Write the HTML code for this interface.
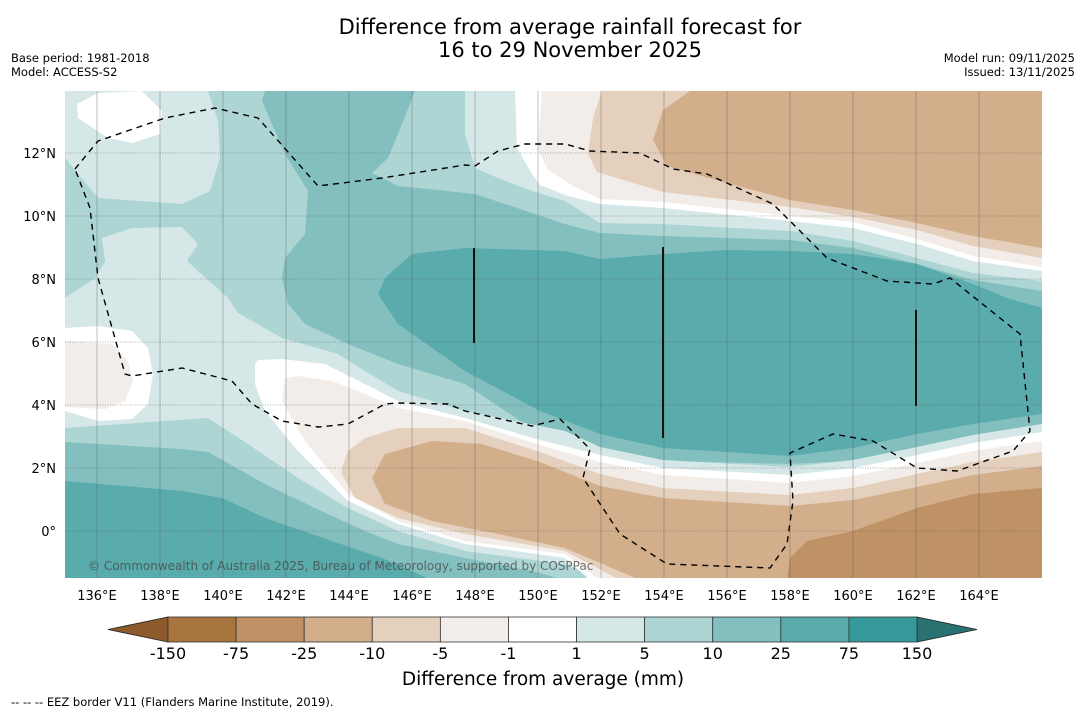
<!DOCTYPE html>
<html><head><meta charset="utf-8">
<style>
html,body{margin:0;padding:0;background:#fff;width:1085px;height:713px;overflow:hidden;font-family:"DejaVu Sans","Liberation Sans",sans-serif;}
svg{display:block}
</style></head>
<body>
<svg id="chart" width="1085" height="713" viewBox="0 0 1085 713" xmlns="http://www.w3.org/2000/svg" font-family="DejaVu Sans, Liberation Sans, sans-serif">
<rect width="1085" height="713" fill="#fff"/>
<text x="570" y="34" text-anchor="middle" font-size="21" fill="#000">Difference from average rainfall forecast for</text>
<text x="570" y="57" text-anchor="middle" font-size="21" fill="#000">16 to 29 November 2025</text>
<text x="11" y="62" font-size="11.5">Base period: 1981-2018</text>
<text x="11" y="76" font-size="11.5">Model: ACCESS-S2</text>
<text x="1075" y="62" font-size="11.5" text-anchor="end">Model run: 09/11/2025</text>
<text x="1075" y="76" font-size="11.5" text-anchor="end">Issued: 13/11/2025</text>
<defs><clipPath id="mapclip"><rect x="65" y="91" width="977" height="487"/></clipPath></defs>
<g id="map" clip-path="url(#mapclip)"></g>
<g id="axes"></g>
<g id="cbar"></g>
<text x="543" y="685" text-anchor="middle" font-size="18.5">Difference from average (mm)</text>
<text x="11" y="706" font-size="11.5">--  --  -- EEZ border V11 (Flanders Marine Institute, 2019).</text>
</svg>
<script>
// Colour scale data
const levels = ["-150","-75","-25","-10","-5","-1","1","5","10","25","75","150"];
const colors = ["#a9753f","#bf9265","#d2ae8b","#e5d0bd","#f2ede8","#ffffff","#d5e8e7","#acd5d4","#84bfbf","#5aabab","#35999a"];
const lonTicks = [136,138,140,142,144,146,148,150,152,154,156,158,160,162,164];
const latTicks = [0,2,4,6,8,10,12];
const NS="http://www.w3.org/2000/svg";
const lonX = lon => 97 + (lon-136)*31.5;
const latY = lat => 531 - lat*31.5;
function mk(tag, attrs, parent){const e=document.createElementNS(NS,tag);for(const k in attrs)e.setAttribute(k,attrs[k]);parent.appendChild(e);return e;}
const map=document.getElementById('map');
mk('rect',{x:65,y:91,width:977,height:487,fill:'#acd5d4'},map);
// contour regions [colour, polygon]
const regions=[
["#84bfbf","265,91 415,91 398,134 388,158 372,173 398,186 475,194 565,224 600,233 663,236 790,240 853,248 917,264 973,280 1042,291 1042,424 973,438 917,448 853,461 790,464 663,461 600,451 540,434 465,384 398,364 348,344 305,324 288,304 282,278 285,258 305,234 308,191 285,154 262,101"],
["#5aabab","412,254 465,248 565,251 600,259 663,254 727,250 790,251 853,254 917,264 973,284 1007,298 1042,308 1042,414 973,424 917,434 853,448 790,456 663,448 600,434 540,411 465,371 398,324 378,294 385,278"],
["#84bfbf","65,442 182,449 208,452 265,484 315,508 365,531 398,544 465,558 532,571 565,580 65,580"],
["#5aabab","65,481 182,491 222,498 265,518 332,541 382,558 432,580 65,580"],
["#d5e8e7","65,91 208,91 218,121 220,158 210,191 182,204 98,198 65,158"],
["#d5e8e7","65,298 95,278 105,261 102,238 132,228 182,227 198,244 187,261 228,298 238,313 282,338 338,354 365,371 398,391 465,411 565,431 600,447 663,460 790,467 853,460 917,447 973,435 1042,424 1042,580 600,580 565,564 465,551 398,531 348,508 298,478 248,444 208,418 65,428"],
["#ffffff","77,104 98,93 142,91 162,111 160,134 132,143 108,138 78,118"],
["#ffffff","65,328 98,326 132,331 148,348 153,374 148,404 132,419 98,421 65,411"],
["#f2ede8","65,341 112,344 128,361 133,381 125,401 105,409 65,407"],
["#ffffff","255,364 258,360 282,359 325,364 365,384 398,401 465,418 540,440 600,455 663,468 790,475 853,468 917,455 973,443 1042,432 1042,580 590,580 565,558 465,544 398,524 348,501 298,451 265,411 255,384"],
["#f2ede8","285,378 298,376 332,381 365,394 398,408 465,421 540,445 600,462 663,475 790,483 853,476 917,463 973,451 1042,441 1042,580 600,580 565,554 465,541 398,521 348,494 305,441 282,401"],
["#e5d0bd","342,468 348,451 365,438 398,428 465,428 540,452 600,474 663,488 790,495 853,488 917,474 973,462 1042,452 1042,580 620,580 565,551 465,534 398,518 355,498 342,474"],
["#d2ae8b","372,478 385,454 432,441 482,444 540,462 600,486 663,498 790,506 853,500 917,487 973,475 1042,466 1042,580 640,580 565,548 498,534 432,521 385,504"],
["#bf9265","790,558 807,541 853,531 917,508 973,494 1042,488 1042,580 787,580"],
["#d5e8e7","465,91 1042,91 1042,281 973,273 917,258 853,241 790,231 663,224 600,223 565,201 532,191 498,178 475,168 465,134"],
["#ffffff","515,91 1042,91 1042,271 973,261 917,244 853,228 790,221 663,208 600,204 565,195 540,185 532,174 517,148"],
["#f2ede8","542,91 1042,91 1042,267 973,256 917,239 853,222 790,216 663,202 600,199 573,186 548,170 538,150"],
["#e5d0bd","602,91 1042,91 1042,258 973,246 917,230 853,217 790,207 663,192 597,172 588,154 593,118"],
["#d2ae8b","690,91 1042,91 1042,248 973,236 917,223 853,210 790,200 723,182 667,166 653,140 663,110"]
];
regions.forEach((r,i)=>{const p=mk('polygon',{points:r[1],fill:r[0]},map);

});
// gridlines
lonTicks.forEach(l=>{const ln=mk('line',{x1:lonX(l),x2:lonX(l),y1:91,y2:578,stroke:'#555',"stroke-opacity":0.45,"stroke-width":0.8},map);

});
latTicks.forEach(l=>{const ln=mk('line',{x1:65,x2:1042,y1:latY(l),y2:latY(l),stroke:'#555',"stroke-opacity":0.6,"stroke-width":0.8,"stroke-dasharray":"1,1.5"},map);

});
// EEZ border
const eez=mk('polyline',{points:"75,169 98,141 165,118 215,108 258,118 318,186 382,178 465,165 475,166 498,151 525,144 565,144 590,151 640,153 673,169 707,174 773,204 827,258 887,281 933,284 950,278 1020,334 1030,431 1013,451 957,471 917,468 873,441 833,434 790,453 793,501 787,544 770,568 667,564 620,534 583,478 590,449 560,419 540,424 532,426 465,411 448,404 398,403 385,404 348,424 318,427 282,421 252,404 232,381 182,368 132,376 125,374 98,278 90,208 75,169",fill:'none',stroke:'#000',"stroke-width":1.4,"stroke-dasharray":"6,5"},map);


[[474,248,343],[663,247,438],[916,310,406]].forEach(v=>{const ln=mk('line',{x1:v[0],x2:v[0],y1:v[1],y2:v[2],stroke:'#111',"stroke-width":2},map);

});
const cr=mk('text',{x:88,y:570,"font-size":12,fill:'#444',"fill-opacity":0.75},map);cr.textContent="© Commonwealth of Australia 2025, Bureau of Meteorology, supported by COSPPac";


// axes labels
const axes=document.getElementById('axes');
lonTicks.forEach(l=>{const t=mk('text',{x:lonX(l),y:600,"text-anchor":"middle","font-size":13},axes);t.textContent=l+"°E";

});
latTicks.forEach(l=>{const t=mk('text',{x:56,y:latY(l)+5,"text-anchor":"end","font-size":13},axes);t.textContent=l===0?"0°":l+"°N";

});
// colorbar
const cb=document.getElementById('cbar');
const x0=168,x1=917,cy0=617,cy1=642,w=(x1-x0)/colors.length;
const lt=mk('polygon',{points:`${x0},${cy0} ${x0},${cy1} 108,${(cy0+cy1)/2}`,fill:'#8d5a2b',stroke:'#222',"stroke-width":0.8},cb);


const rt=mk('polygon',{points:`${x1},${cy0} ${x1},${cy1} 977,${(cy0+cy1)/2}`,fill:'#2a7272',stroke:'#222',"stroke-width":0.8},cb);


colors.forEach((c,i)=>{const r=mk('rect',{x:x0+i*w,y:cy0,width:w,height:cy1-cy0,fill:c,stroke:'#333',"stroke-width":0.8},cb);

});
levels.forEach((l,i)=>{const t=mk('text',{x:x0+i*w,y:659,"text-anchor":"middle","font-size":16},cb);t.textContent=l;

});
</script>
</body></html>
